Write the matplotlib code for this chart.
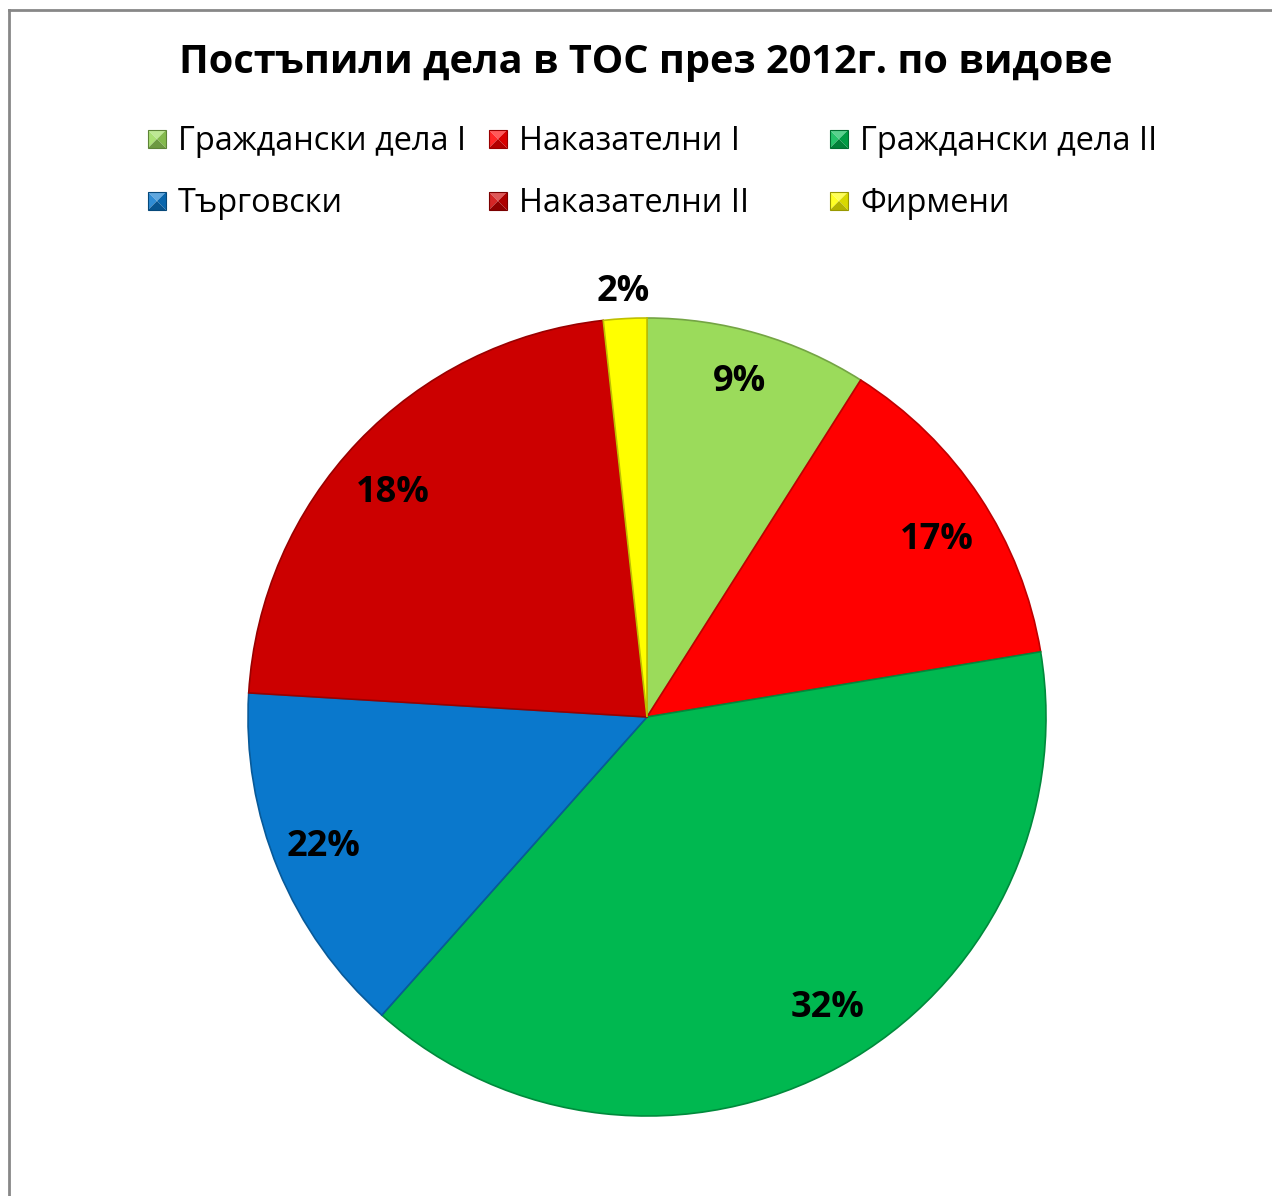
import numpy as np
import matplotlib.pyplot as plt
from matplotlib.patches import Rectangle, Polygon
from matplotlib.colors import to_rgb

plt.rcParams["font.family"] = ["Open Sans", "DejaVu Sans"]

title = "Постъпили дела в ТОС през 2012г. по видове"
categories = ["Граждански дела I", "Наказателни I", "Граждански дела II",
              "Търговски", "Наказателни II", "Фирмени"]
# slice sizes as drawn (share of the circle, %)
shares = [9.0, 13.4, 39.2, 14.4, 22.3, 1.75]
# percent labels as printed on the chart
pct_labels = ["9%", "17%", "32%", "22%", "18%", "2%"]
colors = ["#9BDB5B", "#FF0000", "#00B850", "#0A78CC", "#CC0000", "#FFFF00"]

# label placement tweaks (radius fraction, angle shift in degrees)
label_dist = [0.88, 0.855, 0.85, 0.87, 0.855, 1.074]
label_shift = [0.9, -1.7, 3.2, -1.0, 1.8, 0.1]

W, H = 1272, 1196
fig = plt.figure(figsize=(W / 100, H / 100), dpi=100)

# outer chart frame (only top and left visible in the crop)
fig.add_artist(plt.Line2D([9 / W, 1], [1 - 10 / H, 1 - 10 / H], color="#878787", lw=2))
fig.add_artist(plt.Line2D([9 / W, 9 / W], [0, 1 - 10 / H], color="#878787", lw=2))

fig.text(646 / W, 1 - 63 / H, title, ha="center", va="center",
         fontsize=28.6, fontweight="bold")


def shade(c, f):
    r, g, b = to_rgb(c)
    if f < 1:
        return (r * f, g * f, b * f)
    return (r + (1 - r) * (f - 1), g + (1 - g) * (f - 1), b + (1 - b) * (f - 1))


# legend, 3 equal-width columns, row-major
col_x = [148, 489, 830]
row_y = [139, 201]
sq = 18
for i, (name, col) in enumerate(zip(categories, colors)):
    x0 = col_x[i % 3]
    yc = row_y[i // 3]
    x0f, x1f = x0 / W, (x0 + sq) / W
    y0f, y1f = 1 - (yc + sq / 2) / H, 1 - (yc - sq / 2) / H
    xm, ym = (x0f + x1f) / 2, (y0f + y1f) / 2
    tris = [
        ([(x0f, y1f), (x1f, y1f), (xm, ym)], 1.35),
        ([(x0f, y0f), (x0f, y1f), (xm, ym)], 1.15),
        ([(x1f, y0f), (x1f, y1f), (xm, ym)], 0.85),
        ([(x0f, y0f), (x1f, y0f), (xm, ym)], 0.7),
    ]
    for pts, f in tris:
        fig.add_artist(Polygon(pts, closed=True, transform=fig.transFigure,
                               facecolor=shade(col, f), edgecolor="none"))
    fig.add_artist(Rectangle((x0f, y0f), x1f - x0f, y1f - y0f,
                             transform=fig.transFigure, facecolor="none",
                             edgecolor=shade(col, 0.6), lw=0.8))
    fig.text((x0 + sq + 12) / W, 1 - (yc + 3) / H, name, ha="left",
             va="center", fontsize=23.4)

# pie
cx, cy, r = 647, 717, 399
ax = fig.add_axes([(cx - r) / W, (H - cy - r) / H, 2 * r / W, 2 * r / H])
wedges, _ = ax.pie(shares, colors=colors, startangle=90, counterclock=False,
                   radius=1.0,
                   wedgeprops=dict(linewidth=1.2, edgecolor="none"))
for w, col in zip(wedges, colors):
    w.set_edgecolor(shade(col, 0.75))

for w, lab, d, s in zip(wedges, pct_labels, label_dist, label_shift):
    th = np.deg2rad((w.theta1 + w.theta2) / 2 + s)
    ax.text(d * np.cos(th), d * np.sin(th) - 0.008, lab, ha="center",
            va="center", fontsize=26, fontweight="bold")

ax.set_xlim(-1, 1)
ax.set_ylim(-1, 1)
ax.set_aspect("equal")
ax.axis("off")

fig.savefig("out.png", dpi=100)
